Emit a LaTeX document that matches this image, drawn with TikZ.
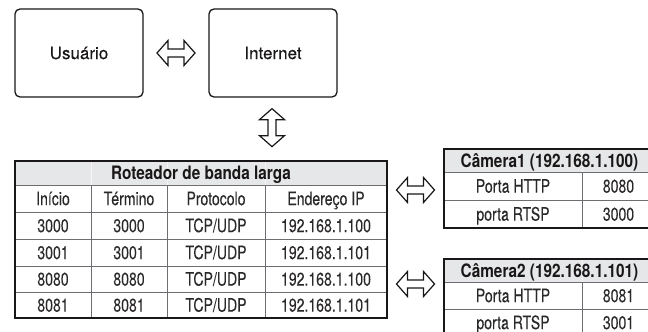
\documentclass[tikz,border=0pt]{standalone}
\usepackage{fontspec}
\setmainfont{TeX Gyre Heros}
\newfontfamily\boxfont[FakeBold=0.25]{TeX Gyre Heros}
\newfontfamily\condreg[FakeStretch=0.76,FakeBold=0.08]{TeX Gyre Heros}
\newfontfamily\condbold[FakeStretch=0.83]{TeX Gyre Heros}
\usetikzlibrary{calc}
\definecolor{ink}{HTML}{1A1718}
\definecolor{tink}{HTML}{2B2829}
\definecolor{gridc}{HTML}{6D6E71}
\definecolor{headfill}{HTML}{E6E7E8}
\begin{document}
\begin{tikzpicture}[x=1pt,y=-1pt,
  box/.style={draw=ink, line width=1.3pt, rounded corners=5pt, minimum width=128pt, minimum height=88pt, font=\boxfont\fontsize{17}{20}\selectfont, text=ink},
  tcell/.style={font=\condreg\fontsize{18.5}{22}\selectfont, text=tink, text height=13.3pt, text depth=0pt, inner sep=0pt},
  thead/.style={font=\condbold\bfseries\fontsize{18.5}{22}\selectfont, text=ink, text height=13.3pt, text depth=0pt, inner sep=0pt},
  tframe/.style={draw=ink, line width=1.6pt},
  tgrid/.style={draw=gridc, line width=0.8pt},
  tfaint/.style={draw=white, line width=0.6pt, opacity=0.6},
  arrowline/.style={draw=ink, line width=1.2pt, fill=white, line join=miter},
  dblarrow/.pic={\path[arrowline] (-19,0) -- (-8,-12.5) -- (-8,-4) -- (8,-4) -- (8,-12.5) -- (19,0) -- (8,12.5) -- (8,4) -- (-8,4) -- (-8,12.5) -- cycle;}
]
\clip (0,0) rectangle (648,332);
\fill[white] (0,0) rectangle (648,332);

% top boxes
\node[box] (usr) at (79,53) {Usuário};
\node[box] (inet) at (273,53) {Internet};
\pic at ($(usr.east)!0.5!(inet.west)$) {dblarrow};
\coordinate (vmid) at ($(inet.south)+(-1,30)$);
\pic[rotate=90] at (vmid) {dblarrow};

% router table
\fill[headfill] (15,161) rectangle (387,185);
\draw[tfaint] (91,161) -- (91,185) (167,161) -- (167,185) (265,161) -- (265,185);
\foreach \yy in {185,212,239,266,292} {\draw[tgrid] (15,\yy) -- (387,\yy);}
\foreach \xx in {91,167,265} {\draw[tgrid] (\xx,185) -- (\xx,318);}
\draw[tframe] (15,161) rectangle (387,318);
\node[thead] (rhead) at (201,173) {Roteador de banda larga};
\node[tcell] (hA) at (53,198.5) {Início};
\node[tcell] (hB) at (129,198.5) {Término};
\node[tcell] (hC) at (216,198.5) {Protocolo};
\node[tcell] (hD) at (326,198.5) {Endereço IP};
\foreach \r/\yy/\s/\ip in {1/225.5/3000/100, 2/252.5/3001/101, 3/279/8080/100, 4/305/8081/101} {
  \node[tcell] (r\r a) at (53,\yy) {\s};
  \node[tcell] (r\r b) at (129,\yy) {\s};
  \node[tcell] (r\r c) at (216,\yy) {TCP/UDP};
  \node[tcell] (r\r d) at (326,\yy) {192.168.1.\ip};
}

% camera 1
\fill[headfill] (444,149) rectangle (655,172);
\draw[tfaint] (582,149) -- (582,172);
\draw[tgrid] (444,172) -- (655,172) (444,200) -- (655,200) (582,172) -- (582,228);
\draw[tframe] (444,149) rectangle (655,228);
\node[thead] (cam1) at (549.5,160.5) {Câmera1 (192.168.1.100)};
\node[tcell] (c1a) at (513,186) {Porta HTTP};
\node[tcell] (c1b) at (618.5,186) {8080};
\node[tcell] (c1c) at (513,214) {porta RTSP};
\node[tcell] (c1d) at (618.5,214) {3000};

% camera 2
\fill[headfill] (444,259) rectangle (655,282);
\draw[tfaint] (582,259) -- (582,282);
\draw[tgrid] (444,282) -- (655,282) (444,309) -- (655,309) (582,282) -- (582,336);
\draw[tframe] (444,259) rectangle (655,336);
\node[thead] (cam2) at (549.5,270.5) {Câmera2 (192.168.1.101)};
\node[tcell] (c2a) at (513,295.5) {Porta HTTP};
\node[tcell] (c2b) at (618.5,295.5) {8081};
\node[tcell] (c2c) at (513,322.5) {porta RTSP};
\node[tcell] (c2d) at (618.5,322.5) {3001};

% side arrows
\coordinate (a1) at (415.5,190);
\coordinate (a2) at (415.5,284);
\pic at (a1) {dblarrow};
\pic at (a2) {dblarrow};
\end{tikzpicture}
\end{document}
